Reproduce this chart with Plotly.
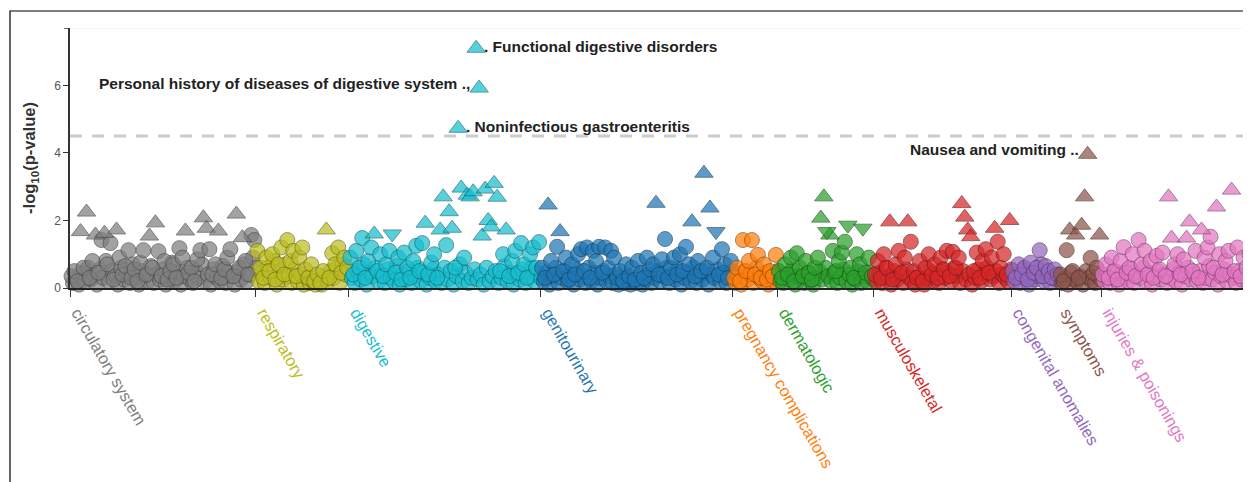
import plotly.graph_objects as go

# ---------------- data ----------------
categories = ["circulatory system", "respiratory", "digestive", "genitourinary",
              "pregnancy complications", "dermatologic", "musculoskeletal",
              "congenital anomalies", "symptoms", "injuries & poisonings"]

# phenotypes in each category, in order (-log10 p)
circ_vals = [0.35, 0.5, 0.2, 1.67, 0.6, 2.25, 0.3, 0.8, 1.57, 0.45, 1.42, 1.62, 0.7, 1.33, 0.25, 1.72,
             0.9, 0.4, 0.65, 1.12, 0.3, 0.55, 0.2, 0.75, 1.12, 0.4, 1.54, 0.6, 1.93, 1.09, 0.35, 0.8,
             0.25, 0.5, 0.7, 0.3, 1.18, 0.9, 1.69, 0.45, 0.6, 0.2, 0.85, 1.12, 2.08, 1.77, 1.15, 0.4,
             0.7, 1.69, 0.3, 0.55, 0.9, 1.15, 0.35, 2.19, 0.6, 1.49, 0.8, 0.4, 1.57, 1.42]
circ_more = [0.15, 0.3, 0.1, 0.45, 0.2, 0.6, 0.25, 0.4, 0.1, 0.55, 0.3, 0.8, 0.2, 0.5, 0.35, 0.1,
             0.6, 0.25, 0.45, 0.15, 0.7, 0.3, 0.1, 0.5, 0.35, 0.2, 0.65, 0.15, 0.4, 0.25, 0.55, 0.1,
             0.3, 0.75, 0.2, 0.45, 0.1, 0.35, 0.6, 0.25, 0.15, 0.5, 0.3, 0.7, 0.2, 0.4, 0.1, 0.55,
             0.3, 0.2, 0.65, 0.15, 0.45, 0.35, 0.1, 0.5, 0.25, 0.7, 0.2, 0.4, 0.9, 0.6]
circ_up = [3, 5, 8, 11, 15, 26, 28, 38, 44, 45, 49, 55, 57]
circ_down = []

resp_vals = [1.1, 0.6, 0.3, 0.9, 0.5, 1.0, 0.25, 0.7, 1.2, 0.4, 1.42, 0.8, 1.1, 0.35, 0.9, 1.2,
             0.55, 0.3, 0.7, 0.2, 0.4, 0.15, 0.5, 1.72, 0.3, 1.03, 0.7, 1.2, 0.45, 0.9, 0.6]
resp_more = [0.2, 0.45, 0.15, 0.6, 0.3, 0.8, 0.1, 0.5, 0.25, 0.7, 0.35, 0.15, 0.55, 0.2, 0.4, 0.1,
             0.3, 0.15, 0.2, 0.1, 0.25, 0.1, 0.35, 0.2, 0.5, 0.3, 0.6, 0.15, 0.7, 0.4, 0.5]
resp_up = [23]
resp_down = []

dig_vals = [0.9, 0.4, 1.1, 0.6, 1.48, 0.3, 0.8, 1.2, 1.6, 0.5, 1.0, 0.35, 0.7, 1.1, 1.6, 0.45,
            0.9, 0.25, 1.05, 0.6, 0.3, 0.8, 1.25, 0.5, 1.33, 1.92, 0.4, 0.75, 1.0, 0.3, 1.72, 2.7,
            1.27, 2.26, 1.77, 0.6, 4.73, 2.96, 0.9, 2.75, 2.7, 2.85, 7.1, 5.92, 1.54, 2.93, 2.0, 1.81,
            3.1, 2.69, 0.5, 1.0, 1.72, 0.35, 0.8, 1.1, 0.45, 1.33, 0.7, 0.3, 1.0, 1.2, 0.6, 1.36]
dig_more = [0.3, 0.15, 0.5, 0.25, 0.7, 0.1, 0.45, 0.35, 0.6, 0.2, 0.4, 0.15, 0.55, 0.3, 0.2, 0.65,
            0.1, 0.4, 0.25, 0.5, 0.15, 0.35, 0.6, 0.2, 0.45, 0.1, 0.3, 0.55, 0.2, 0.4, 0.15, 0.6,
            0.25, 0.5, 0.1, 0.35, 0.7, 0.2, 0.45, 0.15, 0.3, 0.55, 0.25, 0.4, 0.1, 0.6, 0.2, 0.35,
            0.5, 0.15, 0.3, 0.65, 0.2, 0.45, 0.1, 0.4, 0.25, 0.55, 0.15, 0.35, 0.6, 0.2, 0.45, 0.3]
dig_up = [8, 25, 30, 31, 33, 34, 36, 37, 39, 40, 41, 42, 43, 44, 45, 46, 47, 48, 49, 52]
dig_down = [14]

geni_vals = [0.6, 0.3, 2.46, 0.8, 0.4, 1.22, 1.67, 0.5, 0.9, 0.25, 0.7, 0.4, 1.0, 1.15, 0.5, 1.2,
             0.3, 1.1, 0.8, 1.22, 0.45, 1.2, 0.6, 1.1, 0.9, 0.3, 0.5, 0.2, 0.7, 0.35, 0.6, 0.25,
             0.8, 0.45, 0.3, 0.9, 0.55, 0.7, 2.51, 0.4, 0.85, 1.45, 0.3, 0.6, 0.9, 0.4, 1.0, 0.5,
             1.22, 0.7, 1.96, 0.35, 0.8, 0.5, 3.4, 0.6, 2.37, 0.9, 1.67, 0.4, 1.15, 0.7, 0.3, 0.8]
geni_more = [0.2, 0.45, 0.1, 0.35, 0.6, 0.15, 0.3, 0.5, 0.2, 0.4, 0.1, 0.55, 0.25, 0.35, 0.15, 0.6,
             0.2, 0.45, 0.1, 0.3, 0.5, 0.2, 0.35, 0.15, 0.4, 0.1, 0.25, 0.15, 0.3, 0.1, 0.2, 0.15,
             0.35, 0.1, 0.25, 0.4, 0.15, 0.3, 0.5, 0.2, 0.35, 0.6, 0.15, 0.4, 0.25, 0.55, 0.1, 0.3,
             0.45, 0.2, 0.6, 0.15, 0.35, 0.25, 0.5, 0.1, 0.4, 0.3, 0.55, 0.2, 0.45, 0.15, 0.35, 0.5]
geni_up = [2, 6, 38, 50, 54, 56]
geni_down = [58]

preg_vals = [0.3, 0.6, 0.2, 1.42, 0.5, 0.8, 1.42, 0.4, 0.98, 0.3, 0.7, 0.25, 0.5, 0.35, 0.98]
preg_more = [0.15, 0.35, 0.1, 0.5, 0.25, 0.4, 0.15, 0.6, 0.3, 0.2, 0.45, 0.1, 0.3, 0.2, 0.5]
preg_up = []
preg_down = []

derm_vals = [0.5, 0.3, 0.7, 0.4, 0.9, 0.2, 1.03, 0.6, 0.35, 0.8, 0.45, 0.25, 0.6, 0.9, 2.07, 2.7,
             1.67, 1.57, 1.1, 0.5, 0.8, 1.05, 1.37, 1.86, 0.6, 0.3, 1.0, 0.7, 1.77, 0.45, 0.9, 0.35]
derm_more = [0.2, 0.15, 0.4, 0.25, 0.55, 0.1, 0.35, 0.3, 0.15, 0.45, 0.2, 0.1, 0.3, 0.5, 0.25, 0.6,
             0.35, 0.2, 0.45, 0.15, 0.3, 0.55, 0.2, 0.4, 0.1, 0.25, 0.5, 0.15, 0.35, 0.2, 0.45, 0.25]
derm_up = [14, 15, 17]
derm_down = [16, 23, 28]

musc_vals = [0.4, 0.8, 0.3, 1.0, 0.6, 1.96, 0.25, 0.7, 1.1, 0.45, 0.9, 1.96, 1.37, 0.5, 0.3, 0.8,
             0.2, 0.6, 1.0, 0.4, 0.7, 0.3, 0.9, 0.55, 1.1, 0.35, 1.07, 0.6, 0.9, 2.5, 2.1, 1.72,
             1.52, 0.5, 1.05, 0.3, 0.8, 1.15, 0.45, 0.9, 1.77, 1.37, 0.6, 1.0, 0.4, 2.0]
musc_more = [0.2, 0.45, 0.15, 0.6, 0.3, 0.1, 0.5, 0.25, 0.4, 0.15, 0.55, 0.3, 0.2, 0.1, 0.35, 0.25,
             0.1, 0.3, 0.5, 0.2, 0.4, 0.15, 0.55, 0.3, 0.45, 0.2, 0.6, 0.35, 0.15, 0.5, 0.25, 0.4,
             0.1, 0.3, 0.55, 0.2, 0.45, 0.6, 0.25, 0.35, 0.5, 0.15, 0.4, 0.3, 0.2, 0.55]
musc_up = [5, 11, 29, 30, 31, 32, 40, 45]
musc_down = []

cong_vals = [0.5, 0.3, 0.7, 0.4, 0.6, 0.25, 0.75, 0.45, 0.6, 1.12, 0.35, 0.65, 0.5, 0.3, 0.55, 0.4]
cong_more = [0.2, 0.4, 0.15, 0.55, 0.3, 0.1, 0.45, 0.25, 0.35, 0.7, 0.2, 0.4, 0.15, 0.3, 0.25, 0.35]
cong_up = []
cong_down = []

symp_vals = [0.4, 0.2, 1.12, 1.72, 0.5, 1.57, 0.3, 1.86, 2.7, 3.96, 0.89, 0.45, 0.6, 1.57]
symp_more = [0.15, 0.3, 0.1, 0.45, 0.25, 0.2, 0.35, 0.1, 0.5, 0.3, 0.2, 0.15, 0.35, 0.25]
symp_up = [3, 5, 7, 8, 9, 13]
symp_down = []

inj_vals = [0.4, 0.7, 0.3, 0.9, 0.5, 0.25, 0.8, 1.21, 0.45, 0.6, 1.0, 0.35, 1.42, 0.7, 1.1, 0.4,
            0.8, 0.3, 0.95, 0.55, 1.05, 0.35, 2.7, 1.48, 0.7, 1.0, 0.4, 0.85, 1.48, 1.96, 0.5, 1.1,
            0.3, 1.72, 0.9, 1.2, 1.52, 0.6, 2.4, 1.0, 0.4, 0.8, 1.1, 2.9, 0.5, 1.2, 0.35, 0.9,
            0.6, 1.0]
inj_more = [0.2, 0.35, 0.15, 0.5, 0.25, 0.1, 0.45, 0.3, 0.2, 0.55, 0.15, 0.4, 0.3, 0.6, 0.2, 0.45,
            0.1, 0.35, 0.5, 0.25, 0.4, 0.15, 0.3, 0.55, 0.2, 0.45, 0.1, 0.35, 0.6, 0.25, 0.4, 0.2,
            0.5, 0.15, 0.3, 0.65, 0.25, 0.45, 0.1, 0.35, 0.55, 0.2, 0.4, 0.3, 0.15, 0.5, 0.25, 0.35,
            0.2, 0.45]
inj_up = [22, 23, 28, 29, 33, 38, 43]
inj_down = []

threshold = 4.5

labels = [("digestive", 42, ". Functional digestive disorders", "left"),
          ("digestive", 43, "Personal history of diseases of digestive system .,", "right"),
          ("digestive", 36, ". Noninfectious gastroenteritis", "left"),
          ("symptoms", 9, "Nausea and vomiting ..", "right")]

y_ticks = [0, 2, 4, 6]
# --------------------------------------

colors = ["#7f7f7f", "#bcbd22", "#17becf", "#1f77b4", "#ff7f0e",
          "#2ca02c", "#d62728", "#9467bd", "#8c564b", "#e377c2"]

series = [(circ_vals, circ_more, circ_up, circ_down), (resp_vals, resp_more, resp_up, resp_down),
          (dig_vals, dig_more, dig_up, dig_down), (geni_vals, geni_more, geni_up, geni_down),
          (preg_vals, preg_more, preg_up, preg_down), (derm_vals, derm_more, derm_up, derm_down),
          (musc_vals, musc_more, musc_up, musc_down), (cong_vals, cong_more, cong_up, cong_down),
          (symp_vals, symp_more, symp_up, symp_down), (inj_vals, inj_more, inj_up, inj_down)]


def darker(hexc, f=0.6):
    r, g, b = int(hexc[1:3], 16), int(hexc[3:5], 16), int(hexc[5:7], 16)
    return "rgb(%d,%d,%d)" % (r * f, g * f, b * f)


def marker(sym, col, size):
    return dict(symbol=sym, size=size, color=col, opacity=0.72,
                line=dict(color=darker(col), width=1))


fig = go.Figure()
starts = []
pos = 0
xmap = {}
tri_traces = []
for cat, col, (vals, more, up, down) in zip(categories, colors, series):
    starts.append(pos)
    xs = list(range(pos, pos + len(vals)))
    xmap[cat] = (xs, vals)
    fig.add_trace(go.Scatter(x=[pos + i + 0.5 for i in range(len(more))], y=more,
                             mode="markers", cliponaxis=False, marker=marker("circle", col, 15),
                             showlegend=False, hoverinfo="skip"))
    circ_x = [x for i, x in enumerate(xs) if i not in up and i not in down]
    circ_y = [v for i, v in enumerate(vals) if i not in up and i not in down]
    fig.add_trace(go.Scatter(x=circ_x, y=circ_y, mode="markers", cliponaxis=False,
                             marker=marker("circle", col, 15),
                             showlegend=False, hoverinfo="skip"))
    for idxs, sym in ((up, "triangle-up"), (down, "triangle-down")):
        if idxs:
            tri_traces.append(go.Scatter(x=[xs[i] for i in idxs], y=[vals[i] for i in idxs],
                                         mode="markers", cliponaxis=False,
                                         marker=marker(sym, col, 16),
                                         showlegend=False, hoverinfo="skip"))
    pos += len(vals)

for t in tri_traces:
    fig.add_trace(t)

total = pos
tickvals = [s - 0.5 for s in starts]
ticktext = ['<span style="color:%s">%s</span>' % (c, n) for n, c in zip(categories, colors)]

for cat, i, txt, side in labels:
    xs, vals = xmap[cat]
    fig.add_annotation(x=xs[i], y=vals[i], text="<b>%s</b>" % txt, showarrow=False,
                       xanchor=side, yanchor="middle",
                       xshift=(6 if side == "left" else -7), yshift=(5 if side == "right" else 2),
                       font=dict(family="Liberation Sans, Arial", size=15.5, color="#222"))

# threshold line
fig.add_shape(type="line", xref="paper", yref="y", x0=0, x1=1, y0=threshold, y1=threshold,
              line=dict(color="#cccccc", width=3, dash="12px,10px"), layer="below")
# faint top line
fig.add_shape(type="line", xref="paper", yref="y", x0=0, x1=1, y0=7.7, y1=7.7,
              line=dict(color="#eeeeee", width=1), layer="below")
# outer top tick of y axis
fig.add_shape(type="line", xref="paper", yref="y", x0=-6 / 1181, x1=0, y0=7.7, y1=7.7,
              line=dict(color="#333", width=1.5))
# border box
fig.add_shape(type="rect", xref="paper", yref="paper", x0=-60 / 1181, x1=1.2,
              y0=-2, y1=(280 - 3) / 260, line=dict(color="black", width=1.2))

fig.update_layout(
    width=1251, height=482,
    margin=dict(l=62, r=8, t=20, b=202),
    paper_bgcolor="white", plot_bgcolor="white",
    font=dict(family="Liberation Sans, Arial", size=12, color="#444"),
    xaxis=dict(range=[-0.5, total - 0.5], tickmode="array", tickvals=tickvals, ticktext=ticktext,
               tickangle=60, ticks="outside", ticklen=7, tickcolor="#333", showline=True,
               linecolor="#222", linewidth=1.5, showgrid=False, zeroline=False,
               ticklabelshift=8,
               tickfont=dict(size=16.5, family="Liberation Sans, Arial")),
    yaxis=dict(range=[0, 7.7], tickvals=y_ticks, ticks="outside", ticklen=5, tickcolor="#333",
               showline=True, linecolor="#333", linewidth=1.5, showgrid=False, zeroline=False,
               tickfont=dict(size=12, color="#555"),
               title=dict(text="<b>-log<sub>10</sub>(p-value)</b>", standoff=14,
                          font=dict(size=16.5, color="#333"))),
)

fig.write_html("out.html")
